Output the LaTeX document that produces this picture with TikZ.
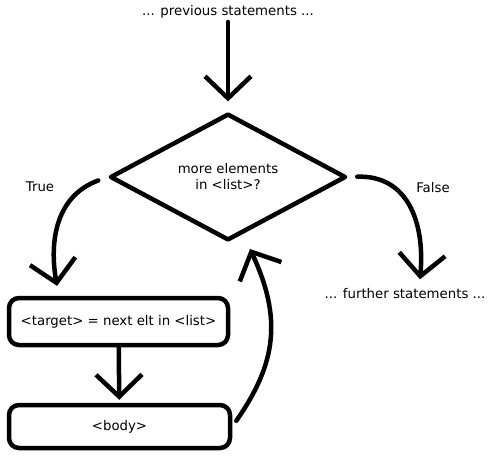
\documentclass[tikz,border=0pt]{standalone}
\usepackage{fontspec}
\setmainfont{DejaVu Sans}
\usetikzlibrary{shapes.geometric,arrows.meta}
\tikzset{
  stroke/.style={line width=4.5pt, line cap=round, line join=round},
  arr/.style={stroke, -{Straight Barb[length=22pt,width=46pt,line width=4.5pt]}},
  stmt/.style={draw, line width=4.5pt, rounded corners=10pt, minimum height=45pt, inner sep=0pt},
  test/.style={draw, diamond, line width=4.5pt, line join=round, minimum width=236pt, minimum height=120pt, inner sep=0pt, align=center}
}
\begin{document}
\begin{tikzpicture}[x=1pt, y=-1pt, every node/.append style={font=\fontsize{13.3}{16}\selectfont}]
\useasboundingbox (0,0) rectangle (490,456);
\node (prev) at (228,12) {... previous statements ...};
\node[test] (cond) at (228,177) {more elements\\in <list>?};
\node (true) at (40,187) {True};
\node (false) at (433,188) {False};
\node[stmt, minimum width=219pt, minimum height=47pt] (target) at (118.5,321.5) {<target> = next elt in <list>};
\node[stmt, minimum width=221pt, minimum height=43pt] (body) at (119.5,426.5) {<body>};
\node (further) at (405,294) {... further statements ...};
\coordinate (back) at (250,249);

\draw[arr, shorten >=10pt] (prev) -- (cond);
\draw[arr, shorten <=10pt, shorten >=10pt] (cond.west) to[out=200, in=100, looseness=1.1] ([xshift=52pt]target.north west);
\draw[arr, shorten <=9pt] (cond.east) to[out=2, in=85, looseness=1.2] ([xshift=15pt,yshift=6pt]further.north);
\draw[arr, shorten >=3pt] (target) -- (body);
\draw[arr, shorten <=7pt] (body.east) to[out=55, in=295, looseness=1.1] (back);
\end{tikzpicture}
\end{document}
